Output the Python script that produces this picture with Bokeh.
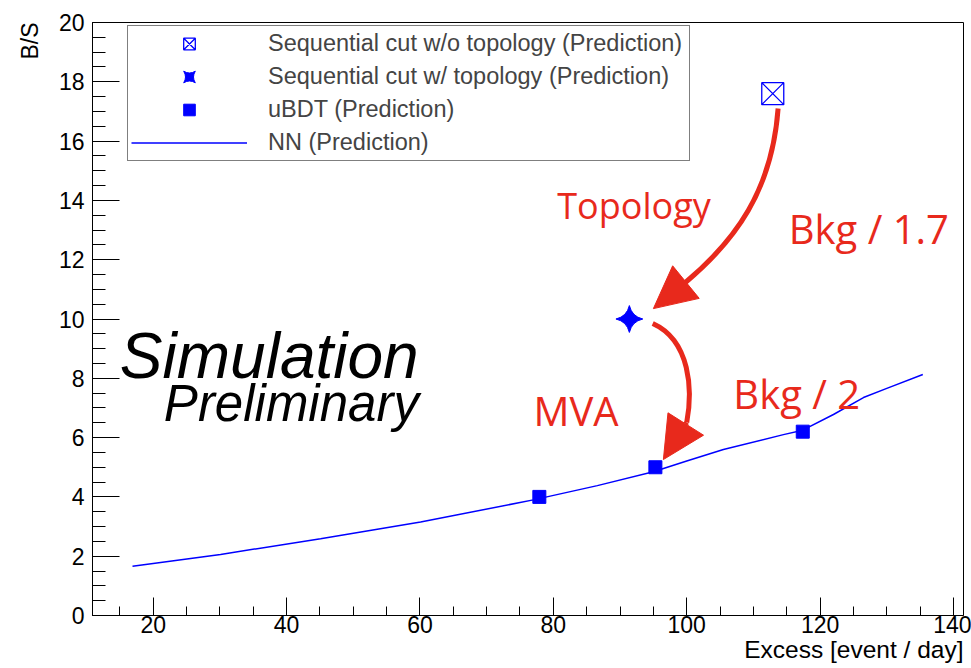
import numpy as np
from bokeh.plotting import figure
from bokeh.models import Range1d, FixedTicker, Label, Legend, LegendItem, Arrow, NormalHead, Title
from bokeh.embed import file_html
from bokeh.resources import INLINE

# ---- working points: excess [event/day] vs B/S ----
seq_wo_x = [112.9]          # sequential cut without topology
seq_wo_y = [17.6]
seq_w_x = [91.4]            # sequential cut with topology
seq_w_y = [10.0]
ubdt_x = [77.9, 95.3, 117.4]
ubdt_y = [4.0, 5.0, 6.2]
nn_x = [16.9, 30.1, 45.1, 60.1, 77.0, 86.6, 95.0, 100.0, 105.5, 114.5, 117.4, 122.0, 126.5, 130.0, 135.4]
nn_y = [1.66, 2.06, 2.59, 3.15, 3.90, 4.38, 4.85, 5.21, 5.60, 6.10, 6.25, 6.78, 7.35, 7.66, 8.13]

x_major = [20, 40, 60, 80, 100, 120, 140]
x_minor = list(range(15, 141, 5))
y_major = list(range(0, 21, 2))
y_minor = [0.5 * i for i in range(41)]

x_title = "Excess [event / day]"
y_title = "B/S"
legend_labels = [
    "Sequential cut w/o topology (Prediction)",
    "Sequential cut w/ topology (Prediction)",
    "uBDT (Prediction)",
    "NN (Prediction)",
]

# hand-drawn style annotation arrows (data units): body curves and heads
arrow_body_x0 = [113.7, 94.9]
arrow_body_y0 = [17.10, 9.85]
arrow_body_cx0 = [112.8, 100.6]
arrow_body_cy0 = [14.33, 9.27]
arrow_body_cx1 = [107.3, 100.9]
arrow_body_cy1 = [12.65, 7.59]
arrow_body_x1 = [99.8, 100.0]
arrow_body_y1 = [11.23, 6.51]
arrow_tip_x = [95.0, 96.5]
arrow_tip_y = [10.35, 5.26]

BLUE = "#0000ff"
RED = "#e8291c"
FONT = "Liberation Sans"

p = figure(width=971, height=668,
           x_range=Range1d(10.9, 141.5), y_range=Range1d(0, 20),
           output_backend="svg", toolbar_location=None,
           min_border_left=92, min_border_right=8,
           min_border_top=22, min_border_bottom=53)
p.grid.visible = False
p.outline_line_color = "black"
p.outline_line_width = 1
p.background_fill_color = "white"
p.border_fill_color = "white"

p.xaxis.ticker = FixedTicker(ticks=x_major, minor_ticks=x_minor)
p.yaxis.ticker = FixedTicker(ticks=y_major, minor_ticks=y_minor)
for ax in (p.xaxis, p.yaxis):
    ax.axis_line_color = "black"
    ax.major_tick_line_color = "black"
    ax.minor_tick_line_color = "black"
    ax.major_tick_out = 0
    ax.minor_tick_out = 0
    ax.major_label_text_font = FONT
    ax.major_label_text_font_size = "23px"
    ax.major_label_text_color = "black"
p.xaxis.major_tick_in = 18
p.xaxis.minor_tick_in = 9
p.yaxis.major_tick_in = 27
p.yaxis.minor_tick_in = 13
p.xaxis.major_label_standoff = 0
p.yaxis.major_label_standoff = 8

# axis titles sit at the far end of each axis
p.add_layout(Title(text=x_title, align="right", vertical_align="top", standoff=0, offset=0,
                   text_font=FONT, text_font_size="24.5px", text_font_style="normal",
                   text_color="black"), "below")
p.add_layout(Title(text=y_title, align="right", vertical_align="bottom", standoff=26, offset=0,
                   text_font=FONT, text_font_size="23px", text_font_style="normal",
                   text_color="black"), "left")

# data series
r_wo = p.scatter(seq_wo_x, seq_wo_y, marker="square_x", size=22,
                 fill_color=None, line_color=BLUE, line_width=1.3)
r_w = p.scatter(seq_w_x, seq_w_y, marker="square_pin", size=19, angle=np.pi / 4,
                fill_color=BLUE, line_color=BLUE)
r_ubdt = p.scatter(ubdt_x, ubdt_y, marker="square", size=13,
                   fill_color=BLUE, line_color=BLUE)
r_nn = p.line(nn_x, nn_y, line_color=BLUE, line_width=1.5)

# red hand-drawn arrows
p.bezier(x0=arrow_body_x0, y0=arrow_body_y0, x1=arrow_body_x1, y1=arrow_body_y1,
         cx0=arrow_body_cx0, cy0=arrow_body_cy0, cx1=arrow_body_cx1, cy1=arrow_body_cy1,
         line_color=RED, line_width=5)
for xs, ys, xe, ye in zip(arrow_body_x1, arrow_body_y1, arrow_tip_x, arrow_tip_y):
    p.add_layout(Arrow(end=NormalHead(size=42, fill_color=RED, line_color=RED),
                       x_start=xs, y_start=ys, x_end=xe, y_end=ye,
                       line_color=RED, line_width=5))

# red annotation texts
for txt, x, y, fs in [("Topology", 92.1, 13.83, "36px"),
                      ("Bkg / 1.7", 127.3, 13.05, "40px"),
                      ("MVA", 83.4, 6.91, "40px"),
                      ("Bkg / 2", 116.5, 7.49, "40px")]:
    p.add_layout(Label(x=x, y=y, text=txt, text_align="center", text_baseline="alphabetic",
                       text_font="Open Sans", text_font_size=fs, text_color=RED))

# Simulation / Preliminary stamp
p.add_layout(Label(x=15.0, y=8.74, text="Simulation", text_font=FONT, text_font_style="italic",
                   text_font_size="64px", text_color="black", text_baseline="alphabetic"))
p.add_layout(Label(x=21.6, y=7.16, text="Preliminary", text_font=FONT, text_font_style="italic",
                   text_font_size="51px", text_color="black", text_baseline="alphabetic"))

legend = Legend(items=[LegendItem(label=legend_labels[0], renderers=[r_wo]),
                       LegendItem(label=legend_labels[1], renderers=[r_w]),
                       LegendItem(label=legend_labels[2], renderers=[r_ubdt]),
                       LegendItem(label=legend_labels[3], renderers=[r_nn])],
                location=(35, 454), orientation="vertical",
                glyph_width=116, glyph_height=29, label_height=29, label_width=418,
                spacing=4, padding=3, margin=0, label_standoff=21,
                label_text_font=FONT, label_text_font_size="23.5px",
                border_line_color="black", border_line_width=1.5,
                background_fill_color="white", background_fill_alpha=1)
p.add_layout(legend)

open("out.html", "w").write(file_html(p, INLINE))
